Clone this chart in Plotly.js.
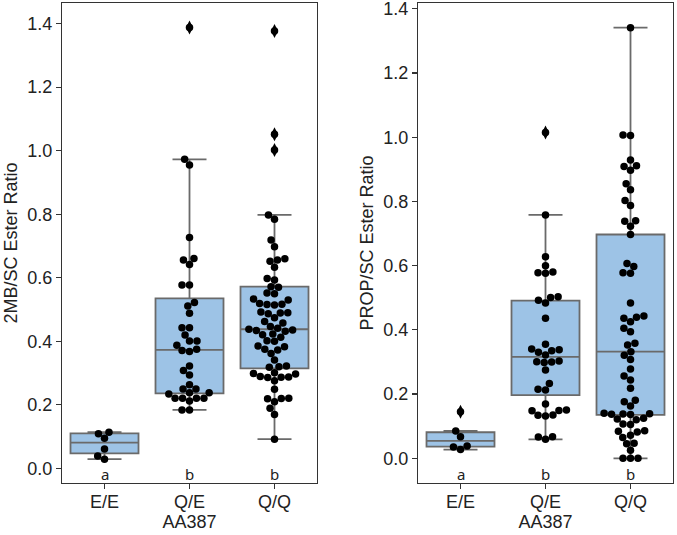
<!DOCTYPE html>
<html>
<head>
<meta charset="utf-8">
<script src="https://cdn.plot.ly/plotly-3.0.1.min.js"></script>
<style>html,body{margin:0;padding:0;background:#fff}#plot{width:677px;height:535px}</style>
</head>
<body>
<div id="plot"></div>
<script>
// ---- categories and labels ----
const categories = ['E/E', 'Q/E', 'Q/Q'];
const groupLetters = ['a', 'b', 'b'];
const xTitle = 'AA387';
const yTitleLeft = '2MB/SC Ester Ratio';
const yTitleRight = 'PROP/SC Ester Ratio';

// ---- 2MB/SC ester ratio (left panel) ----
const mb_EE = [0.114, 0.109, 0.095, 0.061, 0.039, 0.029];
const mb_QE = [1.388, 0.973, 0.955, 0.727, 0.661, 0.656, 0.642, 0.577, 0.577, 0.522, 0.511, 0.488,
  0.443, 0.443, 0.420, 0.401, 0.401, 0.388, 0.375, 0.371, 0.368, 0.322, 0.308, 0.294, 0.263,
  0.250, 0.250, 0.238, 0.238, 0.234, 0.221, 0.221, 0.221, 0.221, 0.212, 0.184, 0.184];
const mb_QQ = [1.377, 1.052, 1.002, 0.798, 0.784, 0.719, 0.698, 0.660, 0.656, 0.652, 0.633, 0.598,
  0.593, 0.572, 0.570, 0.552, 0.550, 0.533, 0.530, 0.519, 0.517, 0.516, 0.514, 0.492, 0.490,
  0.489, 0.487, 0.474, 0.462, 0.458, 0.447, 0.441, 0.438, 0.436, 0.434, 0.432, 0.423, 0.421,
  0.413, 0.402, 0.400, 0.385, 0.383, 0.375, 0.373, 0.362, 0.341, 0.322, 0.320, 0.318, 0.301,
  0.299, 0.297, 0.289, 0.288, 0.287, 0.286, 0.276, 0.249, 0.221, 0.220, 0.219, 0.210, 0.189,
  0.170, 0.092];
// box statistics (E/E, Q/E, Q/Q)
const mb_q1 = [0.047, 0.236, 0.315];
const mb_median = [0.081, 0.373, 0.438];
const mb_q3 = [0.110, 0.535, 0.572];
const mb_lowWhisker = [0.029, 0.184, 0.092];
const mb_highWhisker = [0.114, 0.973, 0.798];

// ---- PROP/SC ester ratio (right panel) ----
const prop_EE = [0.145, 0.085, 0.067, 0.038, 0.035, 0.027];
const prop_QE = [1.015, 0.758, 0.628, 0.600, 0.580, 0.578, 0.576, 0.503, 0.501, 0.492, 0.484,
  0.436, 0.355, 0.340, 0.338, 0.335, 0.330, 0.322, 0.303, 0.301, 0.300, 0.298, 0.275, 0.233,
  0.215, 0.213, 0.169, 0.150, 0.149, 0.148, 0.135, 0.134, 0.132, 0.067, 0.066, 0.059];
const prop_QQ = [1.341, 1.007, 1.005, 0.929, 0.911, 0.909, 0.897, 0.855, 0.836, 0.803, 0.787,
  0.740, 0.738, 0.723, 0.697, 0.607, 0.597, 0.578, 0.576, 0.484, 0.443, 0.439, 0.436, 0.425,
  0.405, 0.394, 0.358, 0.353, 0.332, 0.321, 0.308, 0.278, 0.256, 0.244, 0.218, 0.181, 0.176,
  0.163, 0.140, 0.139, 0.138, 0.137, 0.136, 0.125, 0.122, 0.120, 0.107, 0.105, 0.086, 0.084,
  0.082, 0.072, 0.065, 0.047, 0.045, 0.025, 0.000, 0.000, 0.000];
const prop_q1 = [0.036, 0.197, 0.135];
const prop_median = [0.054, 0.316, 0.332];
const prop_q3 = [0.081, 0.491, 0.697];
const prop_lowWhisker = [0.027, 0.059, 0.000];
const prop_highWhisker = [0.085, 0.758, 1.341];

// ---- layout geometry ----
const W = 677, H = 535;
const M = {l: 62, r: 4, t: 3, b: 52};
const plotW = W - M.l - M.r, plotH = H - M.t - M.b;
const panelW = 255;
const yRangeLeft = [-0.046, 1.465];
const yRangeRight = [-0.077, 1.418];
const xRange = [-0.5, 2.5];
const DOT = 7.5;

const BOX_FILL = '#9dc3e6';
const BOX_LINE = '#6a6a6a';
const AX = '#333333';

// beeswarm offsets in pixel space, converted to data units
function swarm(values, center, pxPerX, pxPerY, d) {
  const idx = values.map((v, i) => i).sort((a, b) => values[a] - values[b]);
  const placed = [];
  const xs = new Array(values.length);
  for (const i of idx) {
    const py = values[i] * pxPerY;
    const near = placed.filter(q => Math.abs(q.y - py) < d);
    const cands = [0];
    for (const q of near) {
      const dx = Math.sqrt(d * d - (q.y - py) * (q.y - py));
      cands.push(q.x - dx, q.x + dx);
    }
    const order = cands.map((c, k) => k).sort((a, b) => {
      const da = Math.abs(cands[a]), db = Math.abs(cands[b]);
      if (Math.abs(da - db) > 1e-6) return da - db;
      return a - b;
    });
    let chosen = 0;
    for (const k of order) {
      const c = cands[k];
      const ok = near.every(q => Math.hypot(q.x - c, q.y - py) >= d - 1e-6);
      if (ok) { chosen = c; break; }
    }
    placed.push({x: chosen, y: py});
    xs[i] = center + chosen / pxPerX;
  }
  return xs;
}

function panelTraces(groups, q1, med, q3, lo, hi, yRange, xa, ya) {
  const pxPerX = panelW / (xRange[1] - xRange[0]);
  const pxPerY = plotH / (yRange[1] - yRange[0]);
  const traces = [];
  traces.push({
    type: 'box', x: [0, 1, 2], q1: q1, median: med, q3: q3,
    lowerfence: lo, upperfence: hi, boxpoints: false,
    width: 0.8, whiskerwidth: 0.5, fillcolor: BOX_FILL,
    line: {color: BOX_LINE, width: 1.8},
    xaxis: xa, yaxis: ya, hoverinfo: 'skip', showlegend: false
  });
  const fx = [], fy = [], dx = [], dy = [];
  groups.forEach((vals, g) => {
    const xs = swarm(vals, g, pxPerX, pxPerY, DOT);
    vals.forEach((v, i) => {
      dx.push(xs[i]); dy.push(v);
      if (v > hi[g] + 1e-9 || v < lo[g] - 1e-9) { fx.push(g); fy.push(v); }
    });
  });
  traces.push({
    type: 'scatter', mode: 'markers', x: fx, y: fy,
    marker: {symbol: 'diamond-tall', size: 10, color: '#000'},
    xaxis: xa, yaxis: ya, hoverinfo: 'skip', showlegend: false
  });
  traces.push({
    type: 'scatter', mode: 'markers', x: dx, y: dy,
    marker: {size: DOT, color: '#000', line: {width: 0}},
    xaxis: xa, yaxis: ya, showlegend: false
  });
  return traces;
}

const data = [
  ...panelTraces([mb_EE, mb_QE, mb_QQ], mb_q1, mb_median, mb_q3, mb_lowWhisker, mb_highWhisker, yRangeLeft, 'x', 'y'),
  ...panelTraces([prop_EE, prop_QE, prop_QQ], prop_q1, prop_median, prop_q3, prop_lowWhisker, prop_highWhisker, yRangeRight, 'x2', 'y2')
];

const FONT = 'Liberation Sans, Arial, sans-serif';
function xAxis(domain, anchor) {
  return {
    domain: domain, anchor: anchor, range: xRange, tickvals: [0, 1, 2], ticktext: categories,
    showline: true, mirror: true, linecolor: AX, linewidth: 1.2,
    ticks: 'outside', ticklen: 5, tickwidth: 1.2, tickcolor: AX,
    ticklabelstandoff: -3,
    showgrid: false, zeroline: false,
    tickfont: {family: FONT, size: 18, color: '#222'},
    title: {text: xTitle, font: {family: FONT, size: 18, color: '#222'}, standoff: 4}
  };
}
function yAxis(range, anchor, title) {
  return {
    anchor: anchor, range: range, tick0: 0, dtick: 0.2, tickformat: '.1f',
    showline: true, mirror: true, linecolor: AX, linewidth: 1.2,
    ticks: 'outside', ticklen: 5, tickwidth: 1.2, tickcolor: AX,
    ticklabeloverflow: 'allow',
    showgrid: false, zeroline: false,
    tickfont: {family: FONT, size: 18, color: '#222'},
    title: {text: title, font: {family: FONT, size: 18, color: '#222'}, standoff: 4}
  };
}

const annotations = [];
groupLetters.forEach((t, i) => {
  annotations.push({xref: 'x', yref: 'y', x: i, y: -0.018, text: t, showarrow: false,
    font: {family: 'Noto Sans, sans-serif', size: 15, color: '#222'}});
  annotations.push({xref: 'x2', yref: 'y2', x: i, y: -0.049, text: t, showarrow: false,
    font: {family: 'Noto Sans, sans-serif', size: 15, color: '#222'}});
});

const layout = {
  width: W, height: H,
  margin: M,
  paper_bgcolor: '#fff', plot_bgcolor: '#fff',
  showlegend: false,
  xaxis: xAxis([0, panelW / plotW], 'y'),
  xaxis2: xAxis([1 - panelW / plotW, 1], 'y2'),
  yaxis: yAxis(yRangeLeft, 'x', yTitleLeft),
  yaxis2: yAxis(yRangeRight, 'x2', yTitleRight),
  annotations: annotations
};

Plotly.newPlot('plot', data, layout, {displayModeBar: false, staticPlot: true});
</script>
</body>
</html>
